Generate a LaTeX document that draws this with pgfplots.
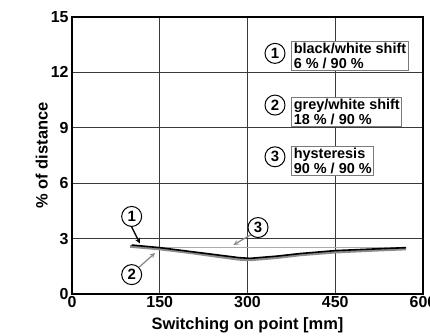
\documentclass[border=0pt]{standalone}
\usepackage{pgfplots}
\pgfplotsset{compat=1.18}
\usepackage{fontspec}
\setmainfont{Liberation Sans}

\definecolor{gridgrey}{HTML}{3A3A3A}
\definecolor{midgrey}{HTML}{8C8C8C}
\definecolor{lightgrey}{HTML}{ABABAB}
\definecolor{boxgrey}{HTML}{7A7A7A}

\tikzset{
  num/.style={circle, draw=black, line width=1bp, fill=white, inner sep=0pt,
    minimum size=20bp, font=\fontsize{15}{15}\selectfont\bfseries},
  lbl/.style={draw=boxgrey, line width=0.9bp, fill=white, anchor=north west,
    align=left, inner xsep=2bp, inner ysep=1.5bp,
    font=\fontsize{14.5}{15}\selectfont\bfseries},
}

\begin{document}
\begin{tikzpicture}
\begin{axis}[name=ax,
  scale only axis,
  width=351bp, height=277bp,
  xmin=0, xmax=600, ymin=0, ymax=15,
  xtick={0,150,300,450,600},
  ytick={0,3,6,9,12,15},
  major tick length=0pt,
  grid=major,
  major grid style={gridgrey, line width=0.8bp},
  axis line style={black, line width=1.1bp},
  /pgf/number format/assume math mode=true,
  ticklabel style={font=\fontsize{16}{16}\selectfont\bfseries},
  xticklabel style={yshift=1bp},
  label style={font=\fontsize{16.5}{17}\selectfont\bfseries},
  xlabel={Switching on point [mm]},
  ylabel={\% of distance},
  xlabel style={yshift=-3bp},
  ylabel style={yshift=-4bp},
  clip=false,
]
% hysteresis 90 % / 90 %
\addplot[lightgrey, line width=1.2bp] coordinates {(100,2.52) (571,2.52)};
% grey/white shift 18 % / 90 %
\addplot[midgrey, line width=2.8bp] coordinates {
  (99,2.58) (150,2.44) (200,2.25) (250,2.03) (285,1.88) (304,1.85)
  (350,1.97) (390,2.12) (450,2.27) (510,2.36) (571,2.44)};
% black/white shift 6 % / 90 %
\addplot[black, line width=1.6bp] coordinates {
  (102,2.65) (150,2.51) (200,2.31) (250,2.11) (285,1.97) (304,1.93)
  (350,2.05) (390,2.19) (450,2.35) (510,2.43) (571,2.51)};

% callouts on the curves
\node[num] (c1) at (axis cs:102,4.2) {1};
\draw[->, >=stealth, black, line width=1.3bp] (c1.south) -- (axis cs:116,2.74);
\node[num] (c2) at (axis cs:102,1.05) {2};
\draw[->, >=stealth, midgrey, line width=1.3bp] (c2.north east) -- (axis cs:142,2.22);
\node[num] (c3) at (axis cs:318,3.6) {3};
\draw[->, >=stealth, midgrey, line width=1.3bp] (c3.south west) -- (axis cs:276,2.66);

% key
\node[num] at (axis cs:347,13.03) {1};
\node[lbl] at (axis cs:375,13.7) {black/white shift\\6 \% / 90 \%};
\node[num] at (axis cs:347,10.23) {2};
\node[lbl] at (axis cs:375,10.65) {grey/white shift\\18 \% / 90 \%};
\node[num] at (axis cs:347,7.43) {3};
\node[lbl] at (axis cs:375,8.0) {hysteresis\\90 \% / 90 \%};
\end{axis}
\pgfresetboundingbox
\path[use as bounding box] ([shift={(-72bp,-42bp)}]ax.south west)
  rectangle ([shift={(7bp,17bp)}]ax.north east);
\end{tikzpicture}
\end{document}
